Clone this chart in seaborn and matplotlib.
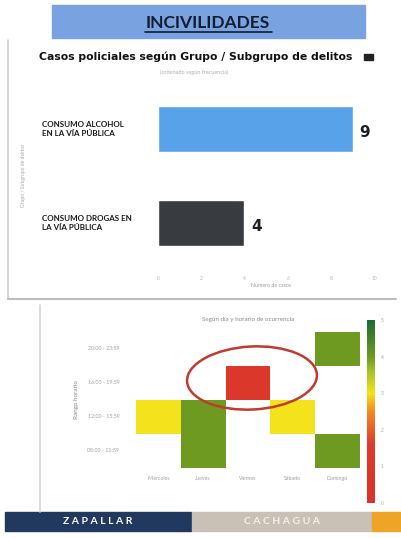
import numpy as np
import pandas as pd
import seaborn as sns
import matplotlib.pyplot as plt
from matplotlib.colors import LinearSegmentedColormap
from matplotlib.patches import Rectangle, Ellipse

# --- data ---
grupos = ["CONSUMO ALCOHOL\nEN LA VÍA PÚBLICA", "CONSUMO DROGAS EN\nLA VÍA PÚBLICA"]
casos = [9, 4]
bar_colors = ["#58a2ea", "#383b40"]

dias = ["Miércoles", "Jueves", "Viernes", "Sábado", "Domingo"]
rangos = ["20:00 - 23:59", "16:00 - 19:59", "12:00 - 15:59", "08:00 - 11:59"]
heat_values = [
    [np.nan, np.nan, np.nan, np.nan, 4],
    [np.nan, np.nan, 1, np.nan, np.nan],
    [3, 4, np.nan, 3, np.nan],
    [np.nan, 4, np.nan, np.nan, 4],
]
cbar_ticks = [0, 1, 2, 3, 4, 5]

sns.set_theme(style="white")
plt.rcParams["font.family"] = ["Lato", "DejaVu Sans"]

W, H = 401, 538
fig = plt.figure(figsize=(W / 100, H / 100), dpi=100)


def px(x0, y0, x1, y1):
    # rect in pixel coords (top-left origin) -> figure fraction
    return [x0 / W, 1 - y1 / H, (x1 - x0) / W, (y1 - y0) / H]


# background / decoration layer
bg = fig.add_axes([0, 0, 1, 1], zorder=0)
bg.set_xlim(0, W)
bg.set_ylim(H, 0)
bg.axis("off")

# title banner
bg.add_patch(Rectangle((52, 5), 313, 33, color="#79a3e0"))
bg.text(208, 23, "INCIVILIDADES", ha="center", va="center", fontsize=12.5,
        fontweight="bold", color="#141c30")
bg.plot([145, 272], [31.5, 31.5], color="#141c30", lw=1.2)

# card borders
bg.plot([8, 8], [40, 299], color="#cfcfcf", lw=1.2)
bg.plot([8, 396], [299, 299], color="#bdbdbd", lw=1.5)
bg.plot([40, 40], [305, 512], color="#d6d6d6", lw=1.2)

# footer
bg.add_patch(Rectangle((5, 512), 186, 19, color="#22395f"))
bg.add_patch(Rectangle((192, 512), 180, 19, color="#c9c0b6"))
bg.add_patch(Rectangle((372, 512), 29, 19, color="#eea426"))
bg.text(98, 522, "Z A P A L L A R", ha="center", va="center", fontsize=7.5,
        color="white", fontweight="bold")
bg.text(282, 522, "C A C H A G U A", ha="center", va="center", fontsize=7.5,
        color="#f4f0ea", fontweight="bold")

# top chart titles
bg.text(196, 57, "Casos policiales según Grupo / Subgrupo de delitos", ha="center",
        va="center", fontsize=7.8, fontweight="bold", color="#111111",
        family="DejaVu Sans")
bg.add_patch(Rectangle((364, 54), 9, 6, color="#222222"))
bg.text(194, 72, "(ordenado según frecuencia)", ha="center", va="center",
        fontsize=4, color="#b0b0b0")

# --- bar chart ---
ax1 = fig.add_axes(px(158, 90, 385, 270), zorder=1)
ax1.patch.set_alpha(0)
df_bar = pd.DataFrame({"grupo": grupos, "casos": casos})
sns.barplot(data=df_bar, x="casos", y="grupo", hue="grupo", palette=bar_colors,
            orient="h", width=0.49, saturation=1, legend=False, ax=ax1)
ax1.set_xlim(0, 10.5)
ax1.set_ylim(1.5, -0.415)
ax1.set_xticks([0, 2, 4, 6, 8, 10])
ax1.tick_params(axis="x", labelsize=3.5, labelcolor="#b5b5b5", length=0, pad=4)
ax1.set_yticks([])
ax1.set_ylabel("")
ax1.set_xlabel("Número de casos", fontsize=3.8, color="#999999", labelpad=2)
sns.despine(ax=ax1, left=True, bottom=True)
for i, (g, v) in enumerate(zip(grupos, casos)):
    ax1.text(v + 0.3, i + 0.04, str(v), va="center", ha="left", fontsize=11,
             fontweight="bold", color="#1e1e1e", family="DejaVu Sans")
    ax1.text(-116 / 21.6, i, g, va="center", ha="left", fontsize=5.8,
             fontweight="bold", color="#1a1a1a", linespacing=1.35)
bg.text(24, 175, "Grupo / Subgrupo de delitos", rotation=90, ha="center",
        va="center", fontsize=3.6, color="#a8a8a8")

# --- heatmap ---
cmap = LinearSegmentedColormap.from_list(
    "ryg", [(0.0, "#d8342a"), (0.32, "#dc3b2c"), (0.5, "#f08a24"),
            (0.6, "#f4e21c"), (0.72, "#a6c02a"), (0.8, "#6e9a22"),
            (1.0, "#1f6a34")])
df_heat = pd.DataFrame(heat_values, index=rangos, columns=dias)
ax2 = fig.add_axes(px(136, 332, 360, 468), zorder=1)
cax = fig.add_axes(px(367, 320, 375, 503), zorder=1)
sns.heatmap(df_heat, cmap=cmap, vmin=0, vmax=5, ax=ax2, cbar_ax=cax,
            cbar_kws={"ticks": cbar_ticks})
ax2.tick_params(axis="both", labelsize=3.8, labelcolor="#a0a0a0", length=0)
ax2.set_xticklabels(dias, rotation=0)
ax2.set_yticklabels(rangos, rotation=0)
ax2.tick_params(axis="y", pad=12)
ax2.tick_params(axis="x", pad=6)
ax2.set_ylabel("Rango horario", fontsize=4.5, color="#888888", labelpad=6)
ax2.set_xlabel("")
ax2.set_title("Según día y horario de ocurrencia", fontsize=4.5,
              color="#888888", pad=8)
cax.tick_params(labelsize=3.5, labelcolor="#aaaaaa", length=0, pad=4)
cax.set_yticklabels([str(t) for t in cbar_ticks])

# hand-drawn red circle
ov = fig.add_axes([0, 0, 1, 1], zorder=3)
ov.set_xlim(0, W)
ov.set_ylim(H, 0)
ov.axis("off")
ov.add_patch(Ellipse((252, 378), 130, 63, angle=-3, fill=False,
                     edgecolor="#c23a2e", lw=1.8))

fig.savefig("out.png", dpi=100)
